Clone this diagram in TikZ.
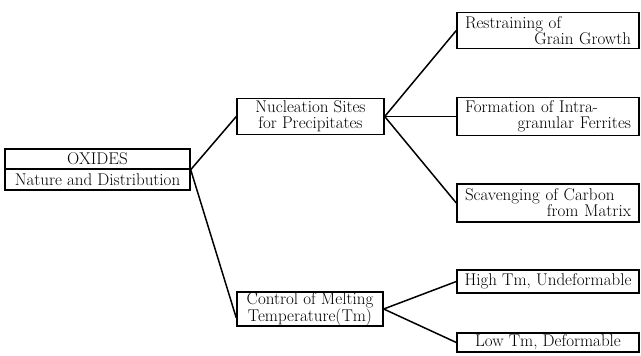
\documentclass[tikz,border=0pt]{standalone}
\usepackage{fontspec}
\setmainfont{Latin Modern Roman}
\usetikzlibrary{calc}
\tikzset{
  box/.style={draw, line width=1.4pt, rectangle, inner sep=0pt, align=center,
    font=\fontsize{17}{16}\selectfont},
  leafbox/.style={box, minimum width=182pt, text width=166pt, align=left},
  conn/.style={line width=1.5pt},
}
\newcommand{\pushright}{\hspace*{0pt plus 1filll}}
\begin{document}
\begin{tikzpicture}[x=1pt,y=-1pt]
\useasboundingbox (0,0) rectangle (641,356);
% root
\node[box, minimum width=185pt, minimum height=20pt] (oxides) at (97.5,159) {OXIDES};
\node[box, minimum width=185pt, minimum height=21pt] (nature) at (97.5,179.5) {Nature and Distribution};
% middle level
\node[box, minimum width=147pt, minimum height=36pt] (nuc) at (310.5,116.5) {Nucleation Sites\\for Precipitates};
\node[box, minimum width=146pt, minimum height=34pt] (ctrl) at (310,309) {Control of Melting\\Temperature(Tm)};
% leaves
\node[leafbox, minimum height=36pt] (rest) at (548,30.5) {Restraining of\\\pushright Grain Growth};
\node[leafbox, minimum height=38pt] (form) at (548,116.5) {Formation of Intra-\\\pushright granular Ferrites};
\node[leafbox, minimum height=38pt] (scav) at (548,203) {Scavenging of Carbon\\\pushright from Matrix};
\node[box, minimum width=182pt, minimum height=23pt] (high) at (548,281.5) {High Tm, Undeformable};
\node[box, minimum width=182pt, minimum height=19pt] (low) at (548,342.5) {Low Tm, Deformable};
% connectors
\draw[conn] (oxides.south east) -- (nuc.west);
\draw[conn] (oxides.south east) -- ($(ctrl.west)+(0,9)$);
\draw[conn] (nuc.east) -- (rest.west);
\draw[conn] (nuc.east) -- (form.west);
\draw[conn] (nuc.east) -- (scav.west);
\draw[conn] (ctrl.east) -- (high.west);
\draw[conn] (ctrl.east) -- (low.west);
\end{tikzpicture}
\end{document}
